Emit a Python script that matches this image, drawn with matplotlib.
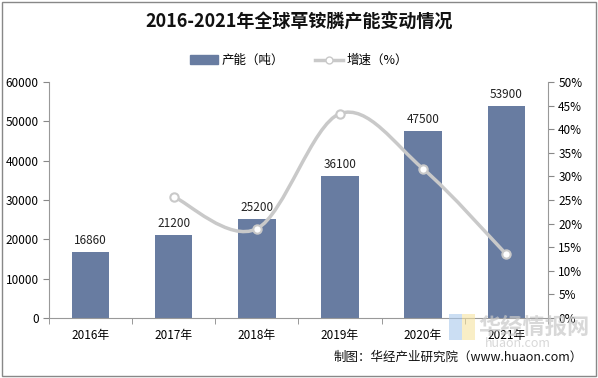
import matplotlib.pyplot as plt
from matplotlib.path import Path
from matplotlib.patches import PathPatch, Rectangle
from matplotlib.lines import Line2D
import numpy as np

plt.rcParams['font.family'] = ['Noto Sans CJK SC', 'DejaVu Sans']

years = ['2016年', '2017年', '2018年', '2019年', '2020年', '2021年']
capacity = [16860, 21200, 25200, 36100, 47500, 53900]
growth = [None, 25.7, 18.9, 43.3, 31.6, 13.5]

bar_color = '#687CA1'
line_color = '#C9C9C9'

fig = plt.figure(figsize=(5.98, 3.78), dpi=100)
fig.patches.append(Rectangle((0.004, 0.004), 0.992, 0.992, transform=fig.transFigure,
                             fill=False, edgecolor='#888888', linewidth=1))
ax = fig.add_axes([0.082, 0.159, 0.834, 0.624])
ax2 = ax.twinx()

x = np.arange(len(years))
ax.bar(x, capacity, width=0.45, color=bar_color, zorder=2)
for xi, v in zip(x, capacity):
    ax.text(xi, v + 1200, str(v), ha='center', va='bottom', fontsize=8.5, color='#222222')

ax.set_xlim(-0.5, len(years) - 0.5)
ax.set_ylim(0, 60000)
ax.set_yticks(range(0, 60001, 10000))
ax.set_xticks(x)
ax.set_xticklabels(years)
ax.set_xticks(np.arange(-0.5, len(years), 1), minor=True)
ax.tick_params(axis='x', which='major', length=0, pad=8, labelsize=8.5)
ax.tick_params(axis='x', which='minor', length=4, color='#888888')
ax.tick_params(axis='y', length=4, color='#888888', labelsize=8.5)
for s in ['top', 'right']:
    ax.spines[s].set_visible(False)
ax.spines['left'].set_color('#999999')
ax.spines['bottom'].set_color('#999999')

# smoothed growth line (Catmull-Rom as cubic bezier)
gx = [xi for xi, g in zip(x, growth) if g is not None]
gy = [g for g in growth if g is not None]
pts = np.column_stack([gx, gy]).astype(float)
verts = [pts[0]]
codes = [Path.MOVETO]
n = len(pts)
for i in range(n - 1):
    p0 = pts[i - 1] if i > 0 else pts[i]
    p1, p2 = pts[i], pts[i + 1]
    p3 = pts[i + 2] if i + 2 < n else pts[i + 1]
    c1 = p1 + (p2 - p0) / 6
    c2 = p2 - (p3 - p1) / 6
    verts += [c1, c2, p2]
    codes += [Path.CURVE4] * 3
ax2.add_patch(PathPatch(Path(verts, codes), fill=False, edgecolor=line_color, linewidth=2.5, zorder=3))
ax2.plot(gx, gy, linestyle='none', marker='o', markersize=6, markerfacecolor='white',
         markeredgecolor=line_color, markeredgewidth=1.5, zorder=4)

ax2.set_ylim(0, 50)
ax2.set_yticks(range(0, 51, 5))
ax2.set_yticklabels([f'{v}%' for v in range(0, 51, 5)])
ax2.tick_params(axis='y', length=4, color='#888888', labelsize=8.5)
for s in ['top', 'left', 'bottom']:
    ax2.spines[s].set_visible(False)
ax2.spines['right'].set_color('#999999')

fig.text(0.5, 0.942, '2016-2021年全球草铵膦产能变动情况', ha='center', va='center',
         fontsize=13, fontweight='bold', color='#111111')

handles = [Rectangle((0, 0), 1, 1, color=bar_color),
           Line2D([], [], color=line_color, linewidth=2.5, marker='o', markersize=5,
                  markerfacecolor='white', markeredgecolor=line_color)]
fig.legend(handles, ['产能（吨）', '增速（%）'], loc='center', bbox_to_anchor=(0.5, 0.84),
           ncol=2, frameon=False, fontsize=9, handlelength=2.2, columnspacing=2.5,
           handletextpad=0.3)

# faint watermark
fig.patches.append(Rectangle((0.75, 0.10), 0.022, 0.07, transform=fig.transFigure,
                             facecolor='#A9C8EC', edgecolor='none', alpha=0.6))
fig.patches.append(Rectangle((0.772, 0.10), 0.022, 0.07, transform=fig.transFigure,
                             facecolor='#F6E3A0', edgecolor='none', alpha=0.6))
fig.text(0.80, 0.135, '华经情报网', fontsize=16, fontweight='bold', color='#C8C8C8',
         alpha=0.7, ha='left', va='center', zorder=0)
fig.text(0.81, 0.09, 'huaon.com', fontsize=9, color='#D8D8D8', ha='left', va='center', zorder=0)
fig.text(0.975, 0.055, '制图：华经产业研究院（www.huaon.com）', ha='right', va='center',
         fontsize=9, color='#111111')

fig.savefig('out.png', dpi=100)
